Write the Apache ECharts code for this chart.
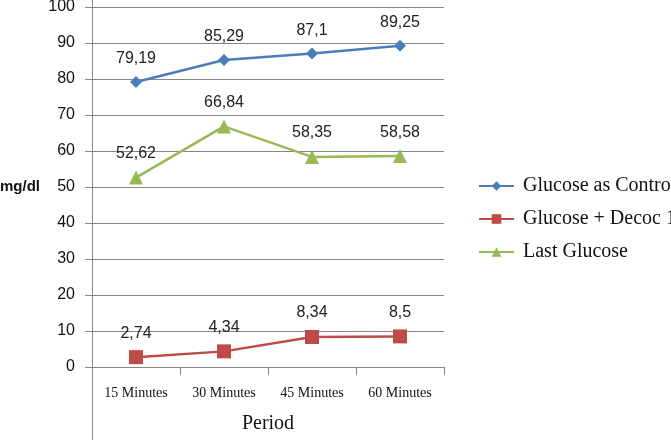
<!DOCTYPE html>
<html>
<head>
<meta charset="utf-8">
<script src="https://cdn.jsdelivr.net/npm/echarts@6/dist/echarts.min.js"></script>
<style>
  html, body { margin: 0; padding: 0; background: #fff; }
  #chart { width: 671px; height: 440px; }
</style>
</head>
<body>
<div id="chart"></div>
<script>
var periods = ['15 Minutes', '30 Minutes', '45 Minutes', '60 Minutes'];
var control = [79.19, 85.29, 87.1, 89.25];
var decoc = [2.74, 4.34, 8.34, 8.5];
var lastGlucose = [52.62, 66.84, 58.35, 58.58];
var seriesNames = ['Glucose as Control', 'Glucose + Decoc 1', 'Last Glucose'];

var chart = echarts.init(document.getElementById('chart'));

function fmt(p) {
    return String(p.value).replace('.', ',');
}

function line(name, data, color, symbol, size) {
    return {
        name: name,
        type: 'line',
        data: data,
        symbol: symbol,
        symbolSize: size,
        lineStyle: {color: color, width: 2.5},
        itemStyle: {color: color},
        label: {
            show: true,
            position: 'top',
            distance: 9,
            formatter: fmt,
            color: '#222',
            fontFamily: 'Liberation Sans',
            fontSize: 16
        }
    };
}

var option = {
    animation: false,
    backgroundColor: '#fff',
    grid: {left: 92, right: 227, top: 7, bottom: 73, outerBoundsMode: 'none'},
    legend: {
        orient: 'vertical',
        left: 473,
        top: 171,
        itemWidth: 35,
        itemHeight: 12,
        itemGap: 13,
        data: seriesNames,
        textStyle: {fontFamily: 'Liberation Serif', fontSize: 20, color: '#111', padding: [0, 0, 0, 4]}
    },
    xAxis: {
        type: 'category',
        data: periods,
        boundaryGap: true,
        name: 'Period',
        nameLocation: 'middle',
        nameGap: 47,
        nameTextStyle: {fontFamily: 'Liberation Serif', fontSize: 20, color: '#111'},
        axisLine: {lineStyle: {color: '#868686', width: 1}},
        axisTick: {show: true, length: 8, lineStyle: {color: '#868686'}},
        axisLabel: {fontFamily: 'Liberation Serif', fontSize: 14, color: '#111', margin: 19, interval: 0}
    },
    yAxis: {
        type: 'value',
        min: 0,
        max: 100,
        interval: 10,
        name: 'mg/dl',
        nameLocation: 'middle',
        nameRotate: 0,
        nameGap: 52,
        nameTextStyle: {fontFamily: 'Liberation Sans', fontSize: 15, fontWeight: 'bold', color: '#111', align: 'right'},
        axisLine: {show: true, lineStyle: {color: '#868686', width: 1}},
        axisTick: {show: true, length: 7, lineStyle: {color: '#868686'}},
        axisLabel: {fontFamily: 'Liberation Sans', fontSize: 16, color: '#111', margin: 17},
        splitLine: {lineStyle: {color: '#868686', width: 1}}
    },
    graphic: [{
        type: 'line',
        shape: {x1: 92.5, y1: 0, x2: 92.5, y2: 440},
        style: {stroke: '#868686', lineWidth: 1}
    }],
    series: [
        line(seriesNames[0], control, '#4A7EBB', 'diamond', 12),
        line(seriesNames[1], decoc, '#BE4B48', 'rect', 14),
        line(seriesNames[2], lastGlucose, '#98B954', 'triangle', 14)
    ]
};

chart.setOption(option);
</script>
</body>
</html>
